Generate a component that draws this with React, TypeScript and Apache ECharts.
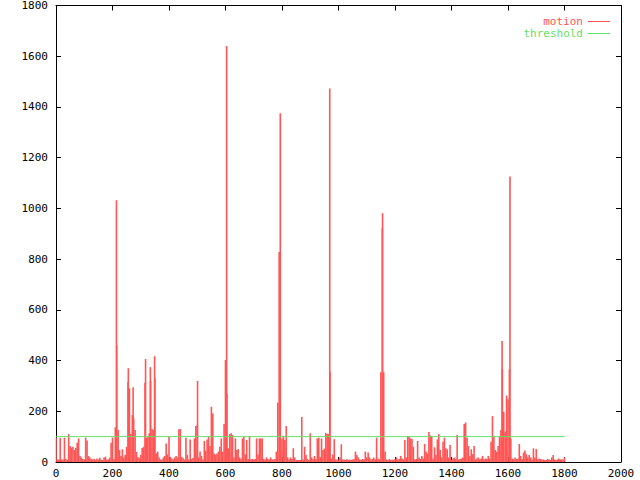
import React, { useEffect, useRef } from "react";
import * as echarts from "echarts";

// motion values sampled every FRAME_STEP frames (frame 0 .. 1800)
const FRAME_STEP = 5;
const motionA = [
  96, 10, 10, 95, 10, 10, 96, 12, 8, 110,
  63, 56, 60, 47, 56, 76, 93, 24, 18, 12,
  10, 96, 85, 24, 18, 12, 10, 13, 8, 14,
  10, 17, 10, 8, 18, 21, 10, 10, 17, 76,
  96, 12, 137, 460, 126, 47, 24, 50, 18, 28,
  60, 315, 290, 110, 185, 172, 126, 40, 20, 15,
  28, 55, 60, 312, 95, 100, 113, 320, 130, 126,
  330, 34, 41, 18, 10, 10, 18, 24, 73, 30,
  100, 20, 14, 10, 18, 24, 18, 129, 130, 20,
  15, 10,
];
const motionB = [
  96, 28, 10, 89, 12, 16, 93, 142, 146, 18,
  41, 24, 10, 83, 45, 89, 102, 63, 218, 192,
  34, 28, 34, 41, 60, 93, 41, 150, 402, 268,
  54, 110, 113, 106, 18, 93, 47, 51, 18, 12,
  93, 100, 30, 87, 12, 102, 10, 12, 10, 12,
  93, 30, 93, 93, 93, 12, 10, 18, 12, 10,
  18, 10, 10, 12, 41, 234, 828, 47, 93, 102, 87, 142,
  18, 10, 18, 12, 54, 18, 8, 8, 8, 8,
  178, 10, 60, 28, 12, 8, 113, 18, 12, 24,
];
const motionC = [
  12, 93, 96, 20, 93, 47, 53, 115, 110, 110,
  354, 14, 30, 90, 10, 10, 10, 18, 70, 10,
  10, 8, 12, 8, 10, 8, 10, 12, 41, 28,
  18, 10, 8, 12, 10, 41, 18, 37, 18, 10,
  12, 18, 10, 96, 14, 10, 354, 922, 354, 41,
  10, 8, 12, 8, 10, 8, 12, 18, 10, 12,
  24, 14, 10, 87, 18, 102, 100, 93, 91, 60,
  10, 12, 83, 18, 12, 24, 14, 71, 41, 34,
  118, 105, 102, 14, 58, 28, 89, 110, 47, 18, 80,
];
const motionD = [
  96, 54, 50, 18, 67, 10, 14, 18, 12, 106,
  10, 12, 14, 18, 150, 156, 96, 63, 24, 50,
  31, 63, 10, 14, 18, 10, 14, 24, 10, 14,
  12, 24, 14, 80, 181, 102, 47, 41, 63, 100,
  126, 366, 198, 120, 262, 247, 366, 93, 14, 10,
  18, 12, 14, 71, 24, 12, 37, 45, 31, 18,
  28, 18, 10, 54, 18, 51, 10, 14, 12, 10,
  10, 8, 8, 12, 10, 8, 18, 28, 10, 8,
  10, 14, 10, 10, 10, 18,
];
// tall single-frame spikes [frame, value]
const motionSpikes: [number, number][] = [
  [214, 1032], [256, 370], [273, 295], [317, 406], [334, 374], [349, 417],
  [501, 320], [604, 1640], [794, 1375], [969, 1473], [1156, 981],
  [1579, 477], [1607, 1126],
];
const thresholdFrames = [0, 1800];
const thresholdValues = [100, 100];

const X_MIN = 0, X_MAX = 2000, X_STEP = 200;
const Y_MIN = 0, Y_MAX = 1800, Y_STEP = 200;

const RED = "#ff5555";
const GREEN = "#66e066";
const FONT = "DejaVu Sans Mono";

export default function App() {
  const ref = useRef<HTMLDivElement>(null);
  useEffect(() => {
    const chart = echarts.init(ref.current!, null, { renderer: "svg" });
    const base = [...motionA, ...motionB, ...motionC, ...motionD].map((v, i) => [i * FRAME_STEP, v]);
    const motionData = [...base, ...motionSpikes];
    const thresholdData = thresholdFrames.map((f, i) => [f, thresholdValues[i]]);
    const line = { show: true, onZero: false, lineStyle: { color: "#000", width: 1 } };
    const tick = { show: true, inside: true, length: 5, lineStyle: { color: "#000", width: 1 } };
    const label = {
      color: "#000", fontFamily: FONT, fontSize: 11,
      formatter: (v: number) => String(v),
    };
    chart.setOption({
      animation: false,
      backgroundColor: "#fff",
      grid: { left: 56, right: 19, top: 5, bottom: 18, containLabel: false },
      legend: {
        orient: "vertical",
        right: 30,
        top: 16,
        align: "right",
        itemWidth: 22,
        itemHeight: 1,
        itemGap: 1,
        icon: "rect",
        selectedMode: false,
        padding: 0,
        textStyle: { fontFamily: FONT, fontSize: 11, lineHeight: 10 },
        data: [
          { name: "motion", textStyle: { color: RED } },
          { name: "threshold", textStyle: { color: GREEN } },
        ],
      },
      xAxis: [
        {
          type: "value", min: X_MIN, max: X_MAX, interval: X_STEP, position: "bottom",
          axisLine: line, axisTick: tick, splitLine: { show: false },
          axisLabel: { ...label, margin: 6 },
        },
        {
          type: "value", min: X_MIN, max: X_MAX, interval: X_STEP, position: "top",
          axisLine: line, axisTick: tick, splitLine: { show: false },
          axisLabel: { show: false },
        },
      ],
      yAxis: [
        {
          type: "value", min: Y_MIN, max: Y_MAX, interval: Y_STEP, position: "left",
          axisLine: line, axisTick: tick, splitLine: { show: false },
          axisLabel: { ...label, margin: 8 },
        },
        {
          type: "value", min: Y_MIN, max: Y_MAX, interval: Y_STEP, position: "right",
          axisLine: line, axisTick: tick, splitLine: { show: false },
          axisLabel: { show: false },
        },
      ],
      series: [
        {
          name: "motion",
          type: "bar",
          data: motionData,
          barWidth: 1.6,
          itemStyle: { color: RED },
          silent: true,
          z: 2,
        },
        {
          name: "threshold",
          type: "line",
          data: thresholdData,
          symbol: "none",
          showSymbol: false,
          lineStyle: { color: GREEN, width: 1 },
          itemStyle: { color: GREEN },
          silent: true,
          z: 3,
        },
      ],
    });
    return () => chart.dispose();
  }, []);
  return (
    <div
      ref={ref}
      style={{ position: "absolute", left: 0, top: 0, width: 640, height: 480, background: "#fff" }}
    />
  );
}
